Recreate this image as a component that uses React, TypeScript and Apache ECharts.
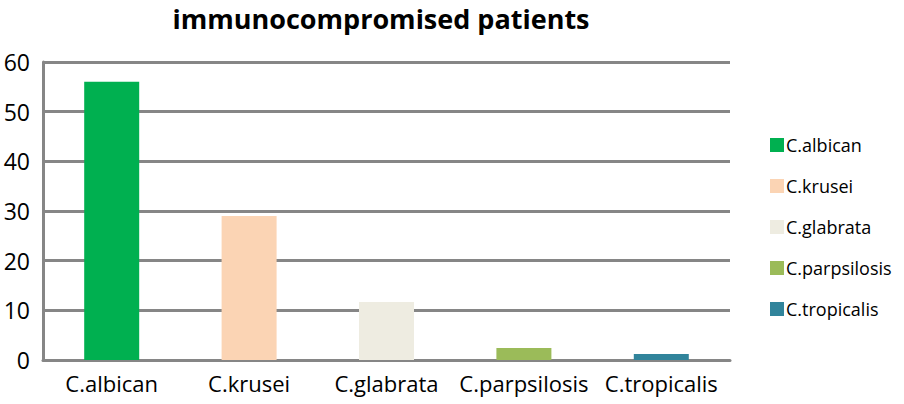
import React, { useEffect, useRef } from "react";
import * as echarts from "echarts";

const categories = ["C.albican", "C.krusei", "C.glabrata", "C.parpsilosis", "C.tropicalis"];
const values = [56, 29, 11.7, 2.4, 1.2];
const colors = ["#00B050", "#FBD4B4", "#EEECE1", "#9BBB59", "#31849B"];
const yTicks = [0, 10, 20, 30, 40, 50, 60];
const title = "immunocompromised patients";

export default function App() {
  const ref = useRef<HTMLDivElement>(null);
  useEffect(() => {
    if (!ref.current) return;
    const chart = echarts.init(ref.current, undefined, { renderer: "svg" });
    const font = "'Open Sans', Lato, sans-serif";
    const grey = "#868686";
    const series = categories.map((name, i) => ({
      name,
      type: "bar" as const,
      stack: "total",
      barWidth: 55,
      itemStyle: { color: colors[i] },
      data: categories.map((_, j) => (j === i ? values[i] : null)),
    }));
    chart.setOption({
      animation: false,
      backgroundColor: "#ffffff",
      textStyle: { fontFamily: font },
      title: {
        text: title,
        left: 376,
        textAlign: "center",
        top: 0,
        textStyle: { fontFamily: font, fontSize: 27, fontWeight: "bold", color: "#000" },
      },
      grid: { left: 43, right: 174, top: 62, bottom: 44, containLabel: false },
      legend: {
        orient: "vertical",
        left: 765,
        top: 131,
        itemWidth: 14,
        itemHeight: 14,
        itemGap: 23,
        icon: "rect",
        textStyle: { fontFamily: font, fontSize: 18, color: "#000", padding: [0, 0, 0, -3] },
        data: categories,
      },
      xAxis: {
        type: "category",
        data: categories,
        axisLine: { show: true, lineStyle: { color: grey, width: 3 } },
        axisTick: { show: false },
        axisLabel: { color: "#000", fontSize: 22, fontFamily: font, margin: 12, interval: 0 },
      },
      yAxis: {
        type: "value",
        min: yTicks[0],
        max: yTicks[yTicks.length - 1],
        interval: 10,
        axisLine: { show: true, lineStyle: { color: grey, width: 3 } },
        axisTick: { show: false },
        splitLine: { show: true, lineStyle: { color: grey, width: 3 } },
        axisLabel: { color: "#000", fontSize: 23, fontFamily: font, margin: 13 },
      },
      series,
    });
    return () => chart.dispose();
  }, []);
  return <div ref={ref} style={{ width: 904, height: 404, position: "absolute", left: 0, top: 0 }} />;
}
